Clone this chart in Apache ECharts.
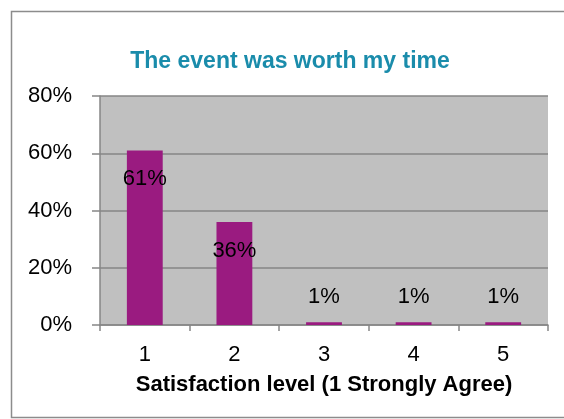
<!DOCTYPE html>
<html><head><meta charset="utf-8">
<script src="https://cdn.jsdelivr.net/npm/echarts@6/dist/echarts.min.js"></script>
<style>html,body{margin:0;padding:0;background:#fff}#c{width:564px;height:419px}</style>
</head><body><div id="c"></div>
<script>
const categories = ['1','2','3','4','5'];
const values = [61, 36, 1, 1, 1];
const yTicks = [0, 20, 40, 60, 80];
const title = 'The event was worth my time';
const xName = 'Satisfaction level (1 Strongly Agree)';

const FONT = 'Liberation Sans';
const chart = echarts.init(document.getElementById('c'), null, {renderer:'canvas'});
chart.setOption({
  animation:false,
  title:{text:title,left:285,top:45,textAlign:'center',
    textStyle:{color:'#1a8cab',fontSize:23,fontWeight:'bold',fontFamily:FONT}},
  graphic:[{type:'rect',shape:{x:11.5,y:11.5,width:570,height:406},
    style:{fill:'none',stroke:'#8c8c8c',lineWidth:1.5},z:-10}],
  grid:{left:100,right:16,top:96,bottom:94,show:true,backgroundColor:'#c0c0c0',borderWidth:0},
  xAxis:{type:'category',data:categories,
    name:xName,nameLocation:'middle',nameGap:49,
    nameTextStyle:{color:'#000',fontSize:22,fontWeight:'bold',fontFamily:FONT},
    axisLine:{lineStyle:{color:'#868686',width:1.5}},
    axisTick:{show:true,length:6,lineStyle:{color:'#868686',width:1.5}},
    axisLabel:{color:'#000',fontSize:22,fontFamily:FONT,margin:19}},
  yAxis:{type:'value',min:0,max:80,interval:20,
    axisLine:{show:true,lineStyle:{color:'#868686',width:1.5}},
    axisTick:{show:true,length:8,lineStyle:{color:'#868686',width:1.5}},
    splitLine:{lineStyle:{color:'#868686',width:1.5}},
    axisLabel:{color:'#000',fontSize:22,fontFamily:FONT,margin:28,
      formatter:v=>yTicks.includes(v)?v+'%':''}},
  series:[{type:'bar',barWidth:'40%',
    itemStyle:{color:'#9a1b80'},
    data:values.map(v=>({value:v,label:{show:true,
      position: v>=10?'insideTop':'top', distance: v>=10?18:14}})),
    label:{color:'#000',fontSize:22,fontFamily:FONT,formatter:p=>p.value+'%'}}]
});
</script></body></html>
